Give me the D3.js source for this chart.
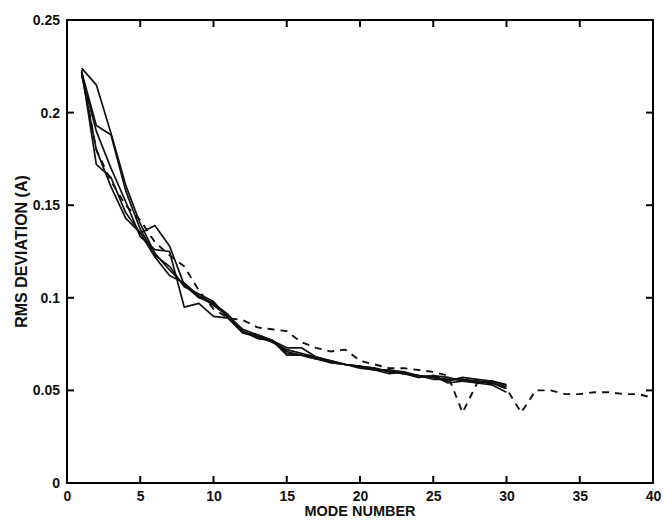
<!DOCTYPE html>
<html lang="en">
<head>
  <meta charset="utf-8" />
  <title>RMS deviation vs mode number</title>
  <style>
    body { margin: 0; background: #fff; }
    .tick text { font-family: "Liberation Sans", Arial, sans-serif; font-size: 14px; font-weight: bold; fill: #111; }
    .ttl { font-family: "Liberation Sans", Arial, sans-serif; font-weight: bold; fill: #111; }
  </style>
  <script src="https://d3js.org/d3.v7.min.js"></script>
</head>
<body>
<script>

// mode numbers for the solid runs (1..30) and the dashed run (1..40)
const modes30 = [1,2,3,4,5,6,7,8,9,10,11,12,13,14,15,16,17,18,19,20,21,22,23,24,25,26,27,28,29,30];
const modes40 = [1,2,3,4,5,6,7,8,9,10,11,12,13,14,15,16,17,18,19,20,21,22,23,24,25,26,27,28,29,30,31,32,33,34,35,36,37,38,39,40];

// solid curves, values
const runA = [0.224,0.215,0.189,0.161,0.140,0.124,0.115,0.107,0.101,0.097,0.090,0.082,0.079,0.077,0.071,0.069,0.068,0.066,0.064,0.063,0.062,0.060,0.059,0.058,0.057,0.056,0.056,0.055,0.054,0.052];
const runB = [0.222,0.193,0.188,0.158,0.137,0.123,0.117,0.106,0.102,0.098,0.089,0.081,0.079,0.076,0.072,0.070,0.068,0.066,0.064,0.063,0.061,0.061,0.060,0.058,0.057,0.055,0.057,0.056,0.055,0.053];
const runC = [0.223,0.172,0.165,0.146,0.135,0.122,0.112,0.108,0.101,0.096,0.090,0.083,0.080,0.077,0.070,0.069,0.067,0.065,0.064,0.062,0.061,0.059,0.060,0.057,0.058,0.054,0.055,0.055,0.054,0.051];
const runD = [0.221,0.180,0.160,0.143,0.135,0.139,0.128,0.107,0.100,0.097,0.091,0.082,0.078,0.077,0.069,0.069,0.067,0.066,0.064,0.063,0.062,0.060,0.059,0.058,0.056,0.056,0.056,0.054,0.055,0.053];
const runE = [0.220,0.190,0.170,0.152,0.133,0.126,0.125,0.095,0.097,0.090,0.089,0.081,0.080,0.077,0.073,0.073,0.068,0.065,0.064,0.063,0.061,0.061,0.059,0.057,0.058,0.057,0.055,0.054,0.053,0.049];

// dashed curve
const runDash = [0.222,0.180,0.163,0.150,0.142,0.130,0.123,0.117,0.104,0.094,0.089,0.088,0.084,0.083,0.082,0.076,0.073,0.071,0.072,0.066,0.064,0.062,0.062,0.061,0.060,0.058,0.038,0.054,0.054,0.051,0.038,0.050,0.050,0.048,0.048,0.049,0.049,0.048,0.048,0.046];

const xTicks = [0,5,10,15,20,25,30,35,40];
const yTicks = [0,0.05,0.1,0.15,0.2,0.25];

const W = 664, H = 520;
const margin = {top: 20, right: 11, bottom: 37, left: 67},
    width = W - margin.left - margin.right,
    height = H - margin.top - margin.bottom;

const svg = d3.select("body").append("svg")
    .attr("width", W).attr("height", H)
    .style("display", "block");
const g = svg.append("g")
    .attr("transform", `translate(${margin.left},${margin.top})`);

const x = d3.scaleLinear().domain([0, 40]).range([0, width]);
const y = d3.scaleLinear().domain([0, 0.25]).range([height, 0]);

// tick labels only from the axes, marks drawn by hand below
const fmt = d => d === 0 ? "0" : String(d);
g.append("g").attr("transform", `translate(0,${height})`)
  .call(d3.axisBottom(x).tickValues(xTicks).tickSize(0).tickPadding(8).tickFormat(fmt))
  .call(a => a.select(".domain").remove());
g.append("g")
  .call(d3.axisLeft(y).tickValues(yTicks).tickSize(0).tickPadding(7).tickFormat(fmt))
  .call(a => a.select(".domain").remove());

// matlab style box with inward ticks on all four sides
const tk = 6;
const box = g.append("g").attr("stroke", "#000").attr("stroke-width", 2)
  .attr("stroke-linecap", "square");
[[0, 0, width, 0], [width, 0, width, height], [0, height, width, height], [0, 0, 0, height]]
  .forEach(s => box.append("line")
    .attr("x1", s[0]).attr("y1", s[1]).attr("x2", s[2]).attr("y2", s[3]));

xTicks.forEach(t => {
  box.append("line").attr("x1", x(t)).attr("x2", x(t)).attr("y1", height).attr("y2", height - tk);
  box.append("line").attr("x1", x(t)).attr("x2", x(t)).attr("y1", 0).attr("y2", tk);
});
yTicks.forEach(t => {
  box.append("line").attr("x1", 0).attr("x2", tk).attr("y1", y(t)).attr("y2", y(t));
  box.append("line").attr("x1", width).attr("x2", width - tk).attr("y1", y(t)).attr("y2", y(t));
});

const line = d3.line().x(d => x(d[0])).y(d => y(d[1]));

[runA, runB, runC, runD, runE].forEach(run => {
  g.append("path")
    .datum(modes30.map((m, i) => [m, run[i]]))
    .attr("fill", "none")
    .attr("stroke", "#111")
    .attr("stroke-width", 1.7)
    .attr("stroke-linejoin", "round")
    .attr("d", line);
});

g.append("path")
  .datum(modes40.map((m, i) => [m, runDash[i]]))
  .attr("fill", "none")
  .attr("stroke", "#111")
  .attr("stroke-width", 1.9)
  .attr("stroke-dasharray", "7,6")
  .attr("d", line);

// axis titles
svg.append("text").attr("class", "ttl")
  .attr("x", margin.left + width / 2).attr("y", 516)
  .attr("text-anchor", "middle")
  .style("font-size", "14.5px")
  .text("MODE NUMBER");

svg.append("text").attr("class", "ttl")
  .attr("transform", `translate(27,${margin.top + height / 2}) rotate(-90)`)
  .attr("text-anchor", "middle")
  .style("font-size", "16px")
  .text("RMS DEVIATION (A)");

</script>
</body>
</html>
